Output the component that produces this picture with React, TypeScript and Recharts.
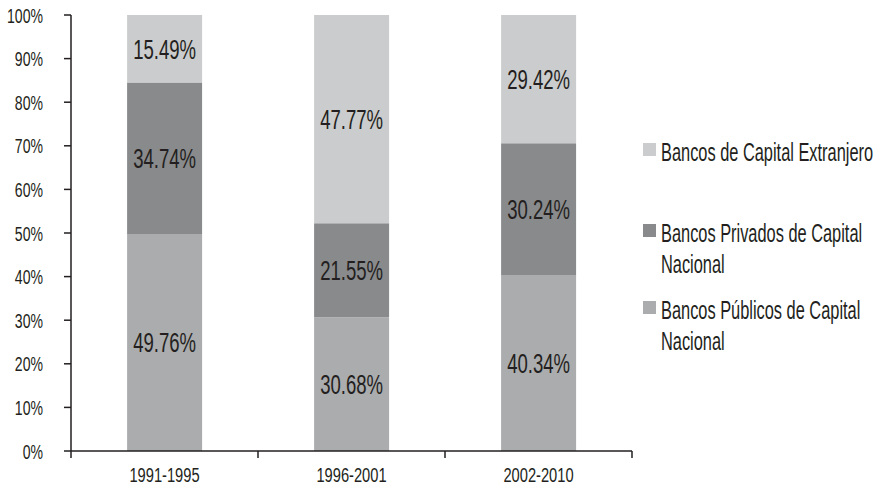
import React from 'react';
import { BarChart, Bar, XAxis, YAxis, LabelList } from 'recharts';

const periods = ['1991-1995', '1996-2001', '2002-2010'];
const publicos = [49.76, 30.68, 40.34];
const privados = [34.74, 21.55, 30.24];
const extranjero = [15.49, 47.77, 29.42];
const yTicks = [0, 10, 20, 30, 40, 50, 60, 70, 80, 90, 100];

const seriesKeys = ['publicos', 'privados', 'extranjero'];
const seriesNames = [
  'Bancos Públicos de Capital Nacional',
  'Bancos Privados de Capital Nacional',
  'Bancos de Capital Extranjero',
];
const seriesColors = ['#abacae', '#898a8c', '#cbcccd'];

const data = periods.map((p, i) => ({
  period: p,
  publicos: publicos[i],
  privados: privados[i],
  extranjero: extranjero[i],
}));

const W = 881;
const H = 486;
const MARGIN = { top: 15, right: 249, bottom: 5, left: 0 };
const Y_W = 71;
const X_H = 30;
const PLOT_W = W - MARGIN.left - MARGIN.right - Y_W;
const BAND_W = PLOT_W / periods.length;
const FONT = "'Liberation Sans', Arial, sans-serif";
const INK = '#231f20';
const SX = 0.67; // horizontal condensing of the text

// legend order top to bottom and vertical placement (baselines of first line)
const legendOrder = [2, 1, 0];
const legendBaselines = [161, 242, 319];
const LEG_FS = 25;
const LEG_LH = 31;
const LEG_SX = 0.655;

const XTick = (props: any) => {
  const { x, y, payload, index } = props;
  const half = BAND_W / 2;
  return (
    <g>
      <line x1={x - half} x2={x - half} y1={y} y2={y + 7} stroke={INK} strokeWidth={1.5} />
      {index === periods.length - 1 && (
        <line x1={x + half} x2={x + half} y1={y} y2={y + 7} stroke={INK} strokeWidth={1.5} />
      )}
      <text
        transform={`translate(${x},${y + 31}) scale(0.7,1)`}
        textAnchor="middle"
        fontSize={21}
        fill={INK}
        fontFamily={FONT}
      >
        {payload.value}
      </text>
    </g>
  );
};

const YTick = (props: any) => {
  const { x, y, payload } = props;
  return (
    <text
      transform={`translate(${x},${y}) scale(${SX},1)`}
      textAnchor="end"
      dy="0.36em"
      fontSize={21}
      fill={INK}
      fontFamily={FONT}
    >
      {`${payload.value}%`}
    </text>
  );
};

const BarLabel = (props: any) => {
  const { x, y, width, height, value } = props;
  const cx = Number(x) + Number(width) / 2;
  const cy = Number(y) + Number(height) / 2;
  return (
    <text
      transform={`translate(${cx},${cy}) scale(0.675,1)`}
      textAnchor="middle"
      dy="0.36em"
      fontSize={27.5}
      fill={INK}
      fontFamily={FONT}
    >
      {`${Number(value).toFixed(2)}%`}
    </text>
  );
};

export default function App() {
  return (
    <div style={{ position: 'absolute', left: 0, top: 0, width: W, height: H, background: '#fff', fontFamily: FONT, overflow: 'hidden' }}>
      <BarChart width={W} height={H} data={data} margin={MARGIN} barCategoryGap="30%">
        <XAxis
          dataKey="period"
          height={X_H}
          tickSize={0}
          tickMargin={0}
          tickLine={false}
          axisLine={{ stroke: INK, strokeWidth: 1.5 }}
          tick={<XTick />}
          interval={0}
        />
        <YAxis
          width={Y_W}
          domain={[0, 100]}
          ticks={yTicks}
          interval={0}
          allowDataOverflow
          tickSize={7}
          tickMargin={21}
          tickLine={{ stroke: INK, strokeWidth: 1.5 }}
          axisLine={{ stroke: INK, strokeWidth: 1.5 }}
          tick={<YTick />}
        />
        {seriesKeys.map((k, i) => (
          <Bar key={k} dataKey={k} stackId="a" fill={seriesColors[i]} isAnimationActive={false}>
            <LabelList dataKey={k} content={<BarLabel />} />
          </Bar>
        ))}
      </BarChart>
      {legendOrder.map((si, j) => {
        const base = legendBaselines[j];
        const top = base - (0.905 * LEG_FS + (LEG_LH - 1.117 * LEG_FS) / 2);
        return (
          <React.Fragment key={si}>
            <div
              style={{
                position: 'absolute',
                left: 643,
                top: base - 18,
                width: 13,
                height: 13,
                background: seriesColors[si],
              }}
            />
            <div
              style={{
                position: 'absolute',
                left: 661,
                top,
                width: 335,
                fontSize: LEG_FS,
                lineHeight: `${LEG_LH}px`,
                color: INK,
                transform: `scale(${LEG_SX},1)`,
                transformOrigin: 'left top',
                whiteSpace: 'normal',
              }}
            >
              {seriesNames[si]}
            </div>
          </React.Fragment>
        );
      })}
    </div>
  );
}
